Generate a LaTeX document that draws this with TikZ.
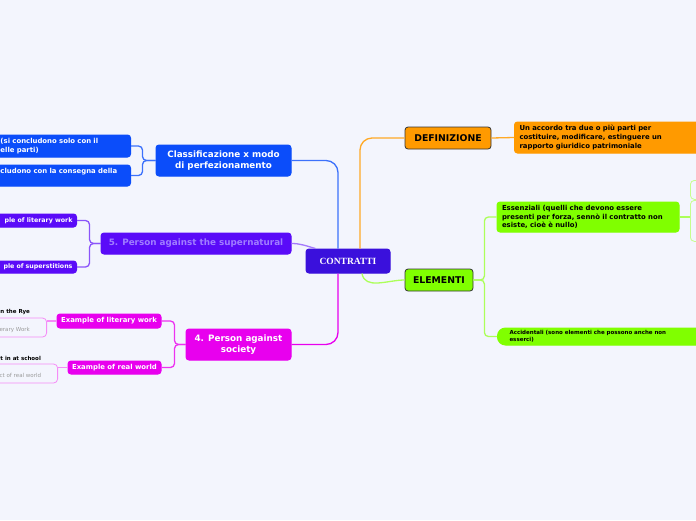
\documentclass[tikz,border=0pt]{standalone}
\usepackage{fontspec}
\setmainfont{Liberation Serif}
\setsansfont{DejaVu Sans}
\usetikzlibrary{positioning, calc}
\definecolor{cbg}{HTML}{F3F5FD}
\definecolor{cindigo}{HTML}{3A10DC}
\definecolor{corange}{HTML}{FF9A00}
\definecolor{clime}{HTML}{80FF00}
\definecolor{cblue}{HTML}{0B4DFA}
\definecolor{cviolet}{HTML}{5A0BF8}
\definecolor{cvtext}{HTML}{A07EFF}
\definecolor{cmagenta}{HTML}{E800EE}
\definecolor{cgrey}{HTML}{9A9A9A}
\tikzset{
  every picture/.style={font=\sffamily\bfseries, line width=1pt},
  box/.style={draw=#1, fill=#1, rounded corners=3pt, align=center, inner sep=3pt, text=white},
  box/.default=cblue,
  hub/.style={box=#1, draw=black!80, text=black, line width=0.8pt, font=\sffamily\bfseries\fontsize{9.3}{11}\selectfont},
  leaf/.style={draw=#1!45, rounded corners=4pt, line width=0.8pt},
  link/.style={draw=#1, line width=1.3pt, rounded corners=8pt},
  bigtext/.style={font=\sffamily\bfseries\fontsize{8.8}{11}\selectfont},
  note/.style={font=\sffamily\bfseries\fontsize{6.9}{8.6}\selectfont},
  tinynote/.style={font=\sffamily\bfseries\fontsize{5.5}{7}\selectfont},
}

\begin{document}
\begin{tikzpicture}[x=1pt, y=-1pt]
  \useasboundingbox (0,0) rectangle (696,520);
  \clip (0,0) rectangle (696,520);
  \fill[cbg] (0,0) rectangle (696,520);
  \node[box=cindigo, minimum width=84pt, minimum height=24pt, font=\rmfamily\bfseries\fontsize{9.5}{11}\selectfont] (contr) at (348,261) {CONTRATTI};
  \node[hub=corange, minimum width=86pt, minimum height=22pt] (def) at (448,138) {DEFINIZIONE};
  \node[box=corange, note, text=black, anchor=west, text width=180pt, align=left, minimum height=31pt, inner xsep=5pt] (deftxt) at (514,137.5) {Un accordo tra due o più parti per\\costituire, modificare, estinguere un\\rapporto giuridico patrimoniale};
  \node[hub=clime, minimum width=68pt, minimum height=22pt] (elem) at (439,280) {ELEMENTI};
  \node[box=clime, note, text=black, text width=172pt, align=left, minimum height=30pt, inner xsep=5pt, inner ysep=2pt] (ess) at (588,217) {Essenziali (quelli che devono essere\\presenti per forza, sennò il contratto non\\esiste, cioè è nullo)};
  \node[box=clime, tinynote, text=black, anchor=west, rounded corners=8pt, text width=190pt, align=left, minimum height=17pt, inner xsep=12pt, inner ysep=1pt] (acc) at (497,336.5) {Accidentali (sono elementi che possono anche non\\esserci)};
  \node[leaf=clime, anchor=north west, minimum width=30pt, minimum height=19pt] (es1) at (690,180) {};
  \node[leaf=clime, anchor=north west, minimum width=30pt, minimum height=41pt] (es2) at (690,200) {};
  \node[box=cblue, bigtext, minimum width=135pt, minimum height=31pt] (classif) at (223.5,160.5) {Classificazione x modo\\di perfezionamento};
  \node[box=cblue, note, anchor=east, text width=125pt, align=left, minimum height=22pt, inner xsep=5pt, inner ysep=2pt] (cons1) at (131,146) {(si concludono solo con il\\elle parti)};
  \node[box=cblue, note, anchor=east, text width=125pt, align=left, minimum height=21pt, inner xsep=5pt, inner ysep=2pt] (cons2) at (131,175.5) {cludono con la consegna della\\~};
  \node[box=cviolet, bigtext, text=cvtext, minimum width=190pt, minimum height=21pt] (sup) at (196,243.5) {5. Person against the supernatural};
  \node[box=cviolet, note, font=\sffamily\bfseries\fontsize{6.3}{8}\selectfont, anchor=east, text width=95pt, align=right, minimum height=13pt, inner xsep=4pt, inner ysep=1pt] (lit5) at (77,220.5) {ple of literary work};
  \node[box=cviolet, note, font=\sffamily\bfseries\fontsize{6.3}{8}\selectfont, anchor=east, text width=95pt, align=right, minimum height=12pt, inner xsep=4pt, inner ysep=1pt] (supst) at (77,267) {ple of superstitions};
  \node[box=cmagenta, bigtext, minimum width=105pt, minimum height=31pt] (soc) at (238.5,344.5) {4. Person against\\society};
  \node[box=cmagenta, note, minimum width=104pt, minimum height=14pt, inner ysep=1pt] (exlit) at (109,321) {Example of literary work};
  \node[box=cmagenta, note, minimum width=93pt, minimum height=13pt, inner ysep=1pt] (exreal) at (114.5,367.5) {Example of real world};
  \node[leaf=cmagenta, text=cgrey, font=\sffamily\fontsize{5.5}{7}\selectfont, anchor=east, text width=43pt, align=left, text height=9.5pt, text depth=1.5pt, inner ysep=4pt, inner xsep=4pt] (gl1) at (47,327.5) {erary Work};
  \node[tinynote, anchor=west, inner sep=0pt] (gl1t) at (0,312) {n the Rye};
  \node[leaf=cmagenta, text=cgrey, font=\sffamily\fontsize{5.5}{7}\selectfont, anchor=east, text width=54pt, align=left, text height=9.5pt, text depth=1.5pt, inner ysep=4pt, inner xsep=4pt] (gl2) at (58,373.5) {ct of real world};
  \node[tinynote, anchor=west, inner sep=0pt] (gl2t) at (0,358) {t in at school};
  \draw[link=corange!85, rounded corners=12pt] ([xshift=12pt]contr.north) |- (def.west);
  \draw[link=corange!85] (def.east) -- (deftxt.west);
  \draw[link=clime!65] ([xshift=14pt]contr.south) to[out=-80, in=180] (elem.west);
  \draw[link=clime!65, rounded corners=4pt] (elem.east) -- ++(11,0) |- (ess.west);
  \draw[link=clime!65, rounded corners=4pt] (elem.east) -- ++(11,0) |- (acc.west);
  \draw[link=clime!65] (ess.east) -- (es2.west |- ess.east);
  \draw[link=cblue!80, rounded corners=12pt] ([xshift=-10pt]contr.north) |- (classif.east);
  \draw[link=cblue!80, rounded corners=4pt] (classif.west) -- ++(-13,0) |- (cons1.east);
  \draw[link=cblue!80, rounded corners=4pt] (classif.west) -- ++(-13,0) |- (cons2.east);
  \draw[link=cviolet!55] (sup.east) to[out=0, in=165] ([xshift=10pt]contr.north west);
  \draw[link=cviolet!70, rounded corners=4pt] (sup.west) -- ++(-11,0) |- (lit5.east);
  \draw[link=cviolet!70, rounded corners=4pt] (sup.west) -- ++(-11,0) |- (supst.east);
  \draw[link=cmagenta, rounded corners=12pt] ([xshift=-10pt]contr.south) |- (soc.east);
  \draw[link=cmagenta!80, rounded corners=4pt] (soc.west) -- ++(-11,0) |- (exlit.east);
  \draw[link=cmagenta!80, rounded corners=4pt] (soc.west) -- ++(-11,0) |- (exreal.east);
  \draw[link=cmagenta!45] (exlit.west) -- (exlit.west -| gl1.east);
  \draw[link=cmagenta!45] (exreal.west) -- (exreal.west -| gl2.east);
\end{tikzpicture}
\end{document}
